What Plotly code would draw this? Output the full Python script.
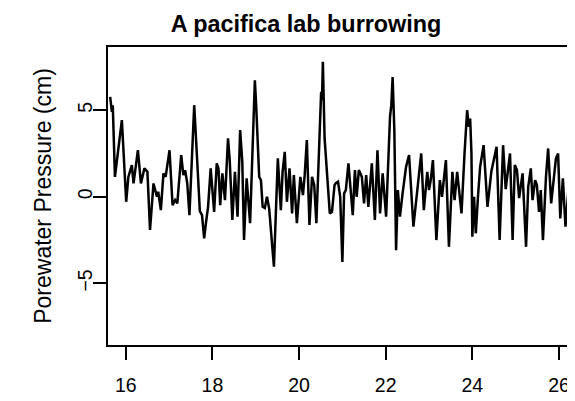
import plotly.graph_objects as go

time_h = [15.64, 15.68, 15.70, 15.75, 15.91, 16.01, 16.06, 16.14, 16.18, 16.21,
          16.28, 16.35, 16.43, 16.50, 16.56, 16.64, 16.72, 16.75, 16.81, 16.87,
          16.92, 17.01, 17.08, 17.14, 17.19, 17.28, 17.33, 17.37, 17.42, 17.47,
          17.58, 17.64, 17.71, 17.76, 17.81, 17.85, 17.90, 17.96, 18.04, 18.10,
          18.14, 18.18, 18.23, 18.29, 18.36, 18.40, 18.46, 18.52, 18.58, 18.64,
          18.69, 18.73, 18.79, 18.87, 18.92, 18.96, 18.98, 19.01, 19.03, 19.08,
          19.12, 19.16, 19.21, 19.26, 19.31, 19.42, 19.51, 19.58, 19.62, 19.67,
          19.72, 19.78, 19.84, 19.88, 19.95, 20.03, 20.09, 20.13, 20.18, 20.24,
          20.30, 20.35, 20.40, 20.45, 20.51, 20.53, 20.55, 20.59, 20.65, 20.71,
          20.76, 20.82, 20.85, 20.90, 20.95, 21.00, 21.04, 21.08, 21.14, 21.24,
          21.29, 21.33, 21.38, 21.45, 21.50, 21.55, 21.60, 21.68, 21.75, 21.81,
          21.87, 21.93, 22.01, 22.10, 22.13, 22.16, 22.20, 22.24, 22.28, 22.33,
          22.39, 22.47, 22.54, 22.64, 22.73, 22.82, 22.88, 22.96, 23.00, 23.04,
          23.09, 23.17, 23.25, 23.30, 23.39, 23.46, 23.54, 23.59, 23.65, 23.75,
          23.82, 23.88, 23.92, 23.95, 23.98, 24.00, 24.04, 24.08, 24.13, 24.18,
          24.26, 24.35, 24.44, 24.56, 24.63, 24.71, 24.77, 24.87, 24.93, 24.98,
          25.03, 25.08, 25.16, 25.24, 25.29, 25.35, 25.39, 25.45, 25.49, 25.54,
          25.58, 25.63, 25.70, 25.75, 25.82, 25.93, 25.98, 26.03, 26.09, 26.15,
          26.24, 26.33, 26.39]

pressure_cm = [5.77, 4.90, 5.29, 1.15, 4.43, -0.29, 1.15, 1.83, 0.77, 1.35,
               2.69, 0.77, 1.64, 1.44, -1.92, 0.77, 0.00, 0.29, -0.77, 1.35,
               1.15, 2.69, -0.48, -0.19, -0.38, 2.41, 1.25, 1.54, 0.77, -1.06,
               5.29, 2.50, -0.83, -1.06, -2.40, -1.53, -0.58, 1.64, -0.87, 1.93,
               1.64, -0.48, 1.35, -0.19, 3.37, 2.12, -1.34, 1.44, -1.15, 3.85,
               2.02, -2.50, 1.06, -1.53, 2.31, 5.00, 6.73, 5.29, 3.85, 1.15,
               0.96, -0.58, -0.65, 0.00, -0.67, -4.04, 2.22, -0.77, 1.44, 2.60,
               -0.29, 1.64, -0.96, 1.25, -1.53, 1.15, 0.10, 1.25, 3.27, -1.63,
               1.15, 0.68, -1.53, 2.02, 6.06, 5.58, 7.79, 3.37, 0.87, -0.96,
               -0.87, 0.68, 0.79, 0.87, 0.00, -3.77, 0.20, 0.39, 1.93, -1.06,
               1.54, 0.00, 1.54, 1.15, -0.38, 1.25, -0.58, 1.93, -1.34, 2.69,
               -0.96, 1.35, -1.15, 4.62, 5.29, 6.92, 3.85, -3.08, 0.39, -1.15,
               0.20, 1.73, 2.41, -1.73, 0.39, 2.50, -0.77, 1.44, 0.39, 0.96,
               2.12, -2.50, 0.96, 0.00, 2.12, -2.89, 1.44, -0.19, 1.44, -0.96,
               2.50, 5.00, 4.04, 4.52, 2.50, -2.31, 0.00, -2.11, 0.00, 1.73,
               2.98, -0.58, 1.48, 2.89, -2.50, 2.98, 0.44, 2.50, -2.50, 1.83,
               1.54, -0.08, 1.35, -2.89, 0.58, 1.64, -0.19, 0.96, 0.68, -0.88,
               0.39, -2.50, 1.15, 2.79, -0.38, 2.22, 2.50, -1.25, 1.06, -1.73,
               1.15, 2.69, 2.35]

x_ticks = [16, 18, 20, 22, 24, 26]
y_ticks = [-5, 0, 5]

FONT = "Liberation Sans, Arial, Helvetica, sans-serif"

fig = go.Figure()
fig.add_trace(go.Scatter(
    x=time_h, y=pressure_cm, mode="lines",
    line=dict(color="black", width=2.5), showlegend=False,
))

# page body has an 8px default margin; figure sized to fill the rest of the window
fig.update_layout(
    width=567, height=393,
    margin=dict(l=100, r=0, t=39, b=56, autoexpand=False),
    paper_bgcolor="white", plot_bgcolor="white",
    font=dict(family=FONT, size=19.5, color="black"),
    title=dict(text="<b>A pacifica lab burrowing</b>", x=0.5256, xref="container",
               xanchor="center", y=0.961, yref="container", yanchor="middle",
               font=dict(family=FONT, size=23.4, color="black")),
)
fig.update_xaxes(
    range=[15.59, 26.37], tickvals=x_ticks, ticks="outside", ticklen=13,
    tickwidth=1.5, tickcolor="black", showline=True, linecolor="black",
    linewidth=1.5, mirror=True, showgrid=False, zeroline=False,
    ticklabelstandoff=9, automargin=False, ticklabeloverflow="allow",
)
fig.update_yaxes(
    range=[-8.56, 8.65], tickvals=y_ticks, ticks="outside", ticklen=13,
    tickwidth=1.5, tickcolor="black", showline=True, linecolor="black",
    linewidth=1.5, mirror=False, showgrid=False, zeroline=False,
    tickangle=-90, automargin=False, ticklabelstandoff=-7,
    title=dict(text="Porewater Pressure (cm)", standoff=16),
)

fig.write_html("out.html")
